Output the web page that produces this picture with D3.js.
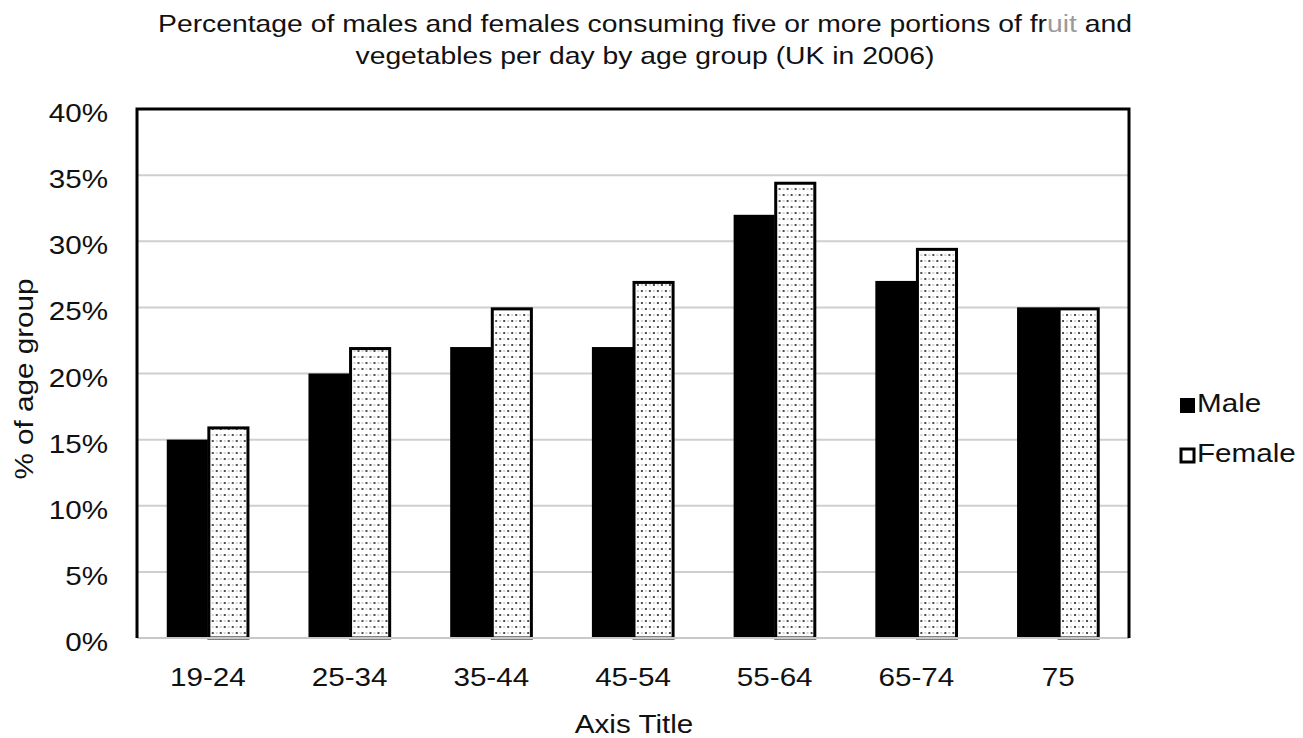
<!DOCTYPE html>
<html>
<head>
<meta charset="utf-8">
<script src="https://cdn.jsdelivr.net/npm/d3@7"></script>
<style>
  html, body { margin: 0; padding: 0; background: #fff; }
  svg { display: block; }
  text { font-family: "Liberation Sans", Arial, sans-serif; fill: #111; }
</style>
</head>
<body>
<svg id="chart" width="1303" height="738"></svg>
<script>
// ---- data ----
const categories = ["19-24", "25-34", "35-44", "45-54", "55-64", "65-74", "75"];
const seriesNames = ["Male", "Female"];
const maleValues = [15, 20, 22, 22, 32, 27, 25];
const femaleValues = [16, 22, 25, 27, 34.5, 29.5, 25];
const yTickValues = [0, 5, 10, 15, 20, 25, 30, 35, 40];
const titleLines = [
  ["Percentage of males and females consuming five or more portions of fr", "uit", " and"],
  ["vegetables per day by age group (UK in 2006)"]
];
const xAxisTitle = "Axis Title";
const yAxisTitle = "% of age group";

// ---- layout ----
const svg = d3.select("#chart");
const plot = { left: 137, right: 1129, top: 109, bottom: 638 };
const stretch = 1.14;

const x0 = d3.scaleBand().domain(categories).range([plot.left, plot.right])
  .paddingInner(0.42).paddingOuter(0.21);
const x1 = d3.scaleBand().domain(seriesNames).range([0, x0.bandwidth()]).padding(0);
const y = d3.scaleLinear().domain([0, 40]).range([plot.bottom, plot.top]);

// pattern for female bars
const defs = svg.append("defs");
const pat = defs.append("pattern").attr("id", "dots")
  .attr("patternUnits", "userSpaceOnUse").attr("width", 8).attr("height", 12);
pat.append("rect").attr("width", 8).attr("height", 12).attr("fill", "#fff");
pat.append("circle").attr("cx", 2).attr("cy", 3).attr("r", 1.0).attr("fill", "#111");
pat.append("circle").attr("cx", 6).attr("cy", 9).attr("r", 1.0).attr("fill", "#111");
pat.append("circle").attr("cx", 6).attr("cy", 3).attr("r", 0.7).attr("fill", "#888");
pat.append("circle").attr("cx", 2).attr("cy", 9).attr("r", 0.7).attr("fill", "#888");

function stretchedText(g, x, yy, str, size, anchor, extra) {
  return g.append("text")
    .attr("transform", `translate(${x},${yy})${extra || ""} scale(${stretch},1)`)
    .attr("text-anchor", anchor)
    .attr("font-size", size)
    .text(str);
}

// gridlines
svg.append("g").selectAll("line")
  .data(yTickValues.filter(v => v > 0 && v < 40))
  .join("line")
  .attr("x1", plot.left).attr("x2", plot.right)
  .attr("y1", d => y(d)).attr("y2", d => y(d))
  .attr("stroke", "#cfcfcf").attr("stroke-width", 2);

// bars
const data = categories.map((c, i) => ({ cat: c, vals: [
  { key: "Male", v: maleValues[i] }, { key: "Female", v: femaleValues[i] }] }));

const groups = svg.append("g").selectAll("g").data(data).join("g")
  .attr("transform", d => `translate(${x0(d.cat)},0)`);

groups.selectAll("rect").data(d => d.vals).join("rect")
  .attr("x", d => x1(d.key) + (d.key === "Female" ? 1 : 0))
  .attr("y", d => y(d.v) + (d.key === "Female" ? 1.5 : 0))
  .attr("width", d => x1.bandwidth() - (d.key === "Female" ? 2 : 0))
  .attr("height", d => y(0) - y(d.v) - (d.key === "Female" ? 1.5 : 0))
  .attr("fill", d => d.key === "Male" ? "#000" : "url(#dots)")
  .attr("stroke", d => d.key === "Male" ? "none" : "#000")
  .attr("stroke-width", 3);

// plot border
svg.append("line").attr("x1", plot.left).attr("x2", plot.right)
  .attr("y1", plot.bottom).attr("y2", plot.bottom)
  .attr("stroke", "#c8c8c8").attr("stroke-width", 2);
svg.append("path")
  .attr("d", `M${plot.left},${plot.bottom}V${plot.top}H${plot.right}V${plot.bottom}`)
  .attr("fill", "none").attr("stroke", "#000").attr("stroke-width", 3);

// y tick labels
const yLabels = svg.append("g");
yTickValues.forEach(v => {
  stretchedText(yLabels, 108, y(v) + 13, v + "%", 26, "end");
});

// x tick labels
const xLabels = svg.append("g");
categories.forEach(c => {
  stretchedText(xLabels, x0(c) + x0.bandwidth() / 2, 686, c, 26, "middle");
});

// axis titles
stretchedText(svg, (plot.left + plot.right) / 2 + 1, 733, xAxisTitle, 26, "middle");
stretchedText(svg, 33, 379, yAxisTitle, 26, "middle", " rotate(-90)");

// chart title
const title = svg.append("text")
  .attr("transform", `translate(645,32) scale(1.18,1)`)
  .attr("text-anchor", "middle").attr("font-size", 24);
titleLines.forEach((parts, li) => {
  const line = title.append("tspan").attr("x", 0).attr("y", li * 32);
  parts.forEach((p, pi) => {
    if (pi === 0) line.text(p);
    else title.append("tspan").text(p).attr("fill", pi === 1 ? "#9a9a9a" : "#111");
  });
});

// legend
const legend = svg.append("g");
seriesNames.forEach((s, i) => {
  const ly = 398 + i * 50;
  legend.append("rect")
    .attr("x", s === "Male" ? 1180 : 1181).attr("y", s === "Male" ? ly : ly + 1)
    .attr("width", s === "Male" ? 15 : 13).attr("height", s === "Male" ? 15 : 13)
    .attr("fill", s === "Male" ? "#000" : "#fff")
    .attr("stroke", s === "Male" ? "none" : "#000").attr("stroke-width", 3);
  stretchedText(legend, 1197, ly + 14, s, 26, "start");
});
</script>
</body>
</html>
